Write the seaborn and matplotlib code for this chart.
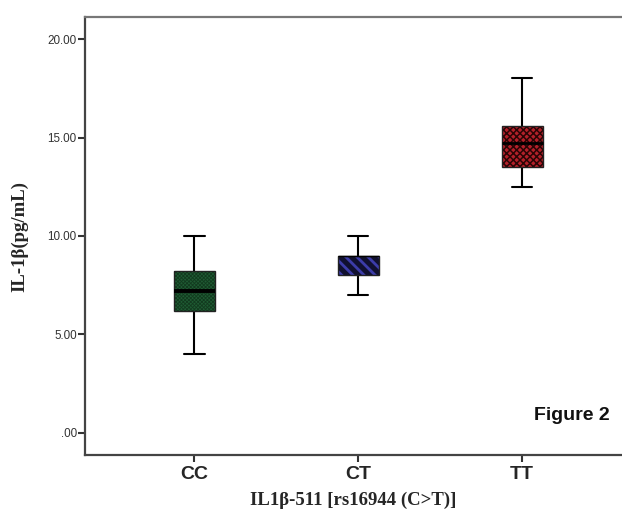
import numpy as np
import pandas as pd
import matplotlib
matplotlib.use("Agg")
import matplotlib.pyplot as plt
import seaborn as sns
from matplotlib.patches import PathPatch

# ---- data (five-number summaries) ----
groups = ["CC", "CT", "TT"]
mins = [4.0, 7.0, 12.5]
q1s = [6.2, 8.0, 13.5]
medians = [7.2, 9.0, 14.7]
q3s = [8.2, 9.0, 15.6]
maxs = [10.0, 10.0, 18.0]
yticks = [0, 5, 10, 15, 20]
ytick_labels = [".00", "5.00", "10.00", "15.00", "20.00"]

fills = ["#1f5c33", "#101030", "#b3202a"]
hatch_colors = ["#123a1f", "#3c3ca8", "#2a0505"]
hatches = ["xxxxxxxxx", "\\\\\\", "xxxxx"]
hatch_lws = [0.6, 2.0, 1.1]
median_lws = [2.8, 1.0, 2.0]

rows = []
for g, a, b, c, d, e in zip(groups, mins, q1s, medians, q3s, maxs):
    for v in (a, b, c, d, e):
        rows.append({"genotype": g, "value": v})
df = pd.DataFrame(rows)

sns.set_style("white")

fig = plt.figure(figsize=(6.22, 5.09), dpi=100)
ax = fig.add_axes([85 / 622, 54 / 509, 1 - 85 / 622, (455 - 17) / 509])

sns.boxplot(data=df, x="genotype", y="value", order=groups, whis=(0, 100),
            width=0.25, ax=ax, color="white", linewidth=1.3, showfliers=False,
            linecolor="black",
            medianprops=dict(color="black", linewidth=2.6),
            whiskerprops=dict(color="black", linewidth=1.5),
            capprops=dict(color="black", linewidth=1.5))

boxes = [p for p in ax.patches if isinstance(p, PathPatch)]
for p, fc, hc, h, hl in zip(boxes, fills, hatch_colors, hatches, hatch_lws):
    p.set_facecolor(fc)
    p.set_edgecolor(hc)
    p.set_hatch(h)
    if hasattr(p, "set_hatch_linewidth"):
        p.set_hatch_linewidth(hl)
    p.set_linewidth(0)
    outline = PathPatch(p.get_path(), transform=p.get_transform(), fill=False,
                        edgecolor="#222222", linewidth=1.0, zorder=p.get_zorder() + 0.1)
    ax.add_patch(outline)

# caps half the box width; per-box median widths
for line in ax.lines:
    xd = np.asarray(line.get_xdata(), dtype=float)
    yd = np.asarray(line.get_ydata(), dtype=float)
    if len(xd) == 2 and yd[0] == yd[1] and abs(xd[1] - xd[0]) > 0:
        cx = xd.mean()
        gi = int(round(cx))
        if yd[0] == mins[gi] or yd[0] == maxs[gi]:
            line.set_xdata([cx - 0.0625, cx + 0.0625])
        elif yd[0] == medians[gi]:
            line.set_linewidth(median_lws[gi])
            line.set_zorder(5)

ax.set_xlim(-0.668, 2.61)
ax.set_ylim(-1.12, 21.12)
ax.set_yticks(yticks)
ax.set_yticklabels(ytick_labels, fontsize=8.4, family="Liberation Sans", color="#333333")
ax.set_xticks(range(len(groups)))
ax.set_xticklabels(groups, fontsize=14, fontweight="bold", family="Liberation Sans")
ax.tick_params(axis="both", direction="out", length=5, width=1.5, color="#333333",
               bottom=True, left=True)
ax.tick_params(axis="y", pad=1)
ax.tick_params(axis="x", pad=3)

for side in ["left", "bottom", "top"]:
    ax.spines[side].set_visible(True)
    ax.spines[side].set_linewidth(1.6)
    ax.spines[side].set_color("#444444")
ax.spines["top"].set_color("#777777")
ax.spines["right"].set_visible(False)

ax.set_xlabel("IL1β-511 [rs16944 (C>T)]", fontsize=13.5, fontweight="bold",
              family="Liberation Serif", labelpad=6)
ax.set_ylabel("IL-1β(pg/mL)", fontsize=13.5, fontweight="bold",
              family="Liberation Serif", labelpad=14)

ax.text(610 / 622, 1 - 415 / 509, "Figure 2", transform=fig.transFigure, ha="right",
        va="center", fontsize=14, fontweight="bold", family="Liberation Sans",
        color="#111111")

fig.savefig("out.png", dpi=100)
